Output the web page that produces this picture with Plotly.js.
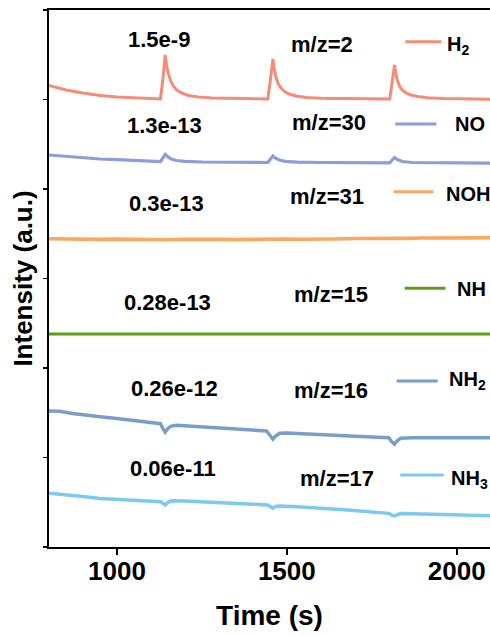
<!DOCTYPE html>
<html>
<head>
<meta charset="utf-8">
<script src="https://cdn.plot.ly/plotly-3.0.1.min.js"></script>
<style>html,body{margin:0;padding:0;background:#fff;}#chart{width:490px;height:635px;}</style>
</head>
<body>
<div id="chart"></div>
<script>
// Time axis (s) and intensities (a.u., stacked offsets as drawn)
const h2_t = [800,850,900,950,1000,1050,1100,1128,1136,1142,1146,1150,1158,1166,1176,1190,1210,1240,1280,1350,1444,1452,1459,1463,1467,1475,1483,1493,1507,1527,1557,1600,1700,1803,1810,1817,1821,1825,1833,1841,1851,1865,1885,1915,1960,2020,2098];
const h2_v = [461.5,457,454,451.5,450,449,448.3,448,470,492,482,475,466,461,457,454,451.5,450,449,448.3,448,468,488,478,471,463,459,455.5,453,451,449.5,448.7,448.2,448,465,482,473,467,460,456.5,454,452,450.5,449.3,448.6,448.2,447.8];

const no_t = [800,850,900,950,1000,1050,1100,1128,1135,1142,1150,1160,1175,1200,1250,1300,1350,1400,1444,1452,1459,1466,1478,1495,1530,1600,1700,1803,1810,1817,1825,1840,1870,1950,2050,2098];
const no_v = [392,390.5,389.3,388,387.3,386.4,385.8,385.4,389,392.5,390,388,386.5,385.6,385,384.9,384.6,384.7,384.5,388,391,389,387,385.6,384.8,384.5,384.3,384.2,387,389.5,387.5,385.5,384.5,384.1,384,383.8];

const noh_t = [800,850,900,950,1000,1050,1100,1150,1200,1250,1300,1350,1400,1450,1500,1550,1600,1650,1700,1750,1800,1850,1900,1950,2000,2050,2098];
const noh_v = [308.2,307.8,308.3,307.6,307.9,307.4,307.8,307.3,307.7,307.2,307.6,307.4,307.9,307.5,308.0,307.7,308.3,308.0,308.5,308.3,308.7,308.6,309.0,308.8,309.2,309.1,309.4];

const nh_t = [800,1100,1400,1700,2000,2098];
const nh_v = [213,213,213,213,213,213];

const nh2_t = [800,830,870,910,950,1000,1050,1100,1128,1136,1142,1150,1160,1175,1200,1250,1300,1350,1400,1440,1452,1459,1467,1479,1500,1540,1600,1650,1700,1750,1800,1808,1817,1824,1835,1870,1950,2020,2098];
const nh2_v = [136,135.7,133.5,131.5,130.3,128.5,126.5,124.5,123.3,118,114.7,118.5,121,121.8,121.3,120,119,118,117,116,111,107.7,111,113.7,114,113.5,112.5,111.5,110.8,110,109.3,105.5,102.7,106,108.7,109.2,109.4,109.3,109.3];

const nh3_t = [800,850,900,950,1000,1050,1100,1128,1136,1142,1150,1160,1200,1250,1300,1350,1400,1444,1452,1459,1466,1479,1530,1600,1680,1750,1800,1808,1817,1825,1835,1900,2000,2098];
const nh3_v = [53.7,52.5,50.5,48.5,47.5,46.8,46,45.3,43.5,42,44.5,46.3,46,45,44.3,43.5,42.8,42,40,38.7,40.5,41,40.3,39,37,35,33.7,32,31,32.5,33.5,33,32,31.3];

const series_names = ["H<sub>2</sub>","NO","NOH","NH","NH<sub>2</sub>","NH<sub>3</sub>"];
const series_colors = ["#F48C76","#8E9CDA","#F9A862","#5E9F14","#789EC9","#7DC9F4"];
const scale_labels = ["1.5e-9","1.3e-13","0.3e-13","0.28e-13","0.26e-12","0.06e-11"];
const mz_labels = ["m/z=2","m/z=30","m/z=31","m/z=15","m/z=16","m/z=17"];
const x_ticks = [1000,1500,2000];

const T = [h2_t,no_t,noh_t,nh_t,nh2_t,nh3_t];
const V = [h2_v,no_v,noh_v,nh_v,nh2_v,nh3_v];
const widths = [3,3.2,3.6,3,3.4,3.4];

const traces = T.map((t,i)=>({x:t,y:V[i],type:'scatter',mode:'lines',line:{color:series_colors[i],width:widths[i]},showlegend:false,hoverinfo:'skip'}));

// label positions (layout)
const scalePos = [[1124,507.5],[1140,421.5],[1146,344],[1150,244.5],[1170,159],[1165,79]];
const mzPos = [[1604,502.5],[1625,424.5],[1617,350.3],[1629,252.3],[1629,157],[1648,68.7]];
const legLine = [[1849,1955,505.3],[1819,1940,423],[1814,1932,355.3],[1847,1967,258.7],[1823,1944,166],[1834,1962,72]];
const legText = [[1965,501.5],[1988,423],[1962,353],[1994,258],[1971,166.5],[1977,68]];

const F = 'Liberation Sans, Arial, sans-serif';
const annotations = [];
const shapes = [];
for (let i=0;i<6;i++){
  annotations.push({x:scalePos[i][0],y:scalePos[i][1],xref:'x',yref:'y',text:scale_labels[i],showarrow:false,xanchor:'center',yanchor:'middle',font:{family:F,size:22,weight:'bold',color:'#000'}});
  annotations.push({x:mzPos[i][0],y:mzPos[i][1],xref:'x',yref:'y',text:mz_labels[i],showarrow:false,xanchor:'center',yanchor:'middle',font:{family:F,size:22,weight:'bold',color:'#000'}});
  annotations.push({x:legText[i][0],y:legText[i][1],xref:'x',yref:'y',text:series_names[i],showarrow:false,xanchor:'left',yanchor:'middle',font:{family:F,size:20,weight:'bold',color:'#000'}});
  shapes.push({type:'line',xref:'x',yref:'y',x0:legLine[i][0],x1:legLine[i][1],y0:legLine[i][2],y1:legLine[i][2],line:{color:series_colors[i],width:3}});
}

const layout = {
  width:490,height:635,
  margin:{l:49,r:0,t:10,b:88},
  paper_bgcolor:'#fff',plot_bgcolor:'#fff',
  font:{family:F,color:'#000'},
  xaxis:{range:[800,2098],tickvals:x_ticks,ticktext:x_ticks.map(String),ticks:'outside',ticklen:6,tickwidth:2,tickcolor:'#000',ticklabelstandoff:-6,
    showline:true,linewidth:2,linecolor:'#000',mirror:true,showgrid:false,zeroline:false,
    tickfont:{family:F,size:26,weight:'bold',color:'#000'},
    title:{text:'Time (s)',font:{family:F,size:28,weight:'bold',color:'#000'},standoff:20}},
  yaxis:{range:[0,537],tick0:0,dtick:89.5,ticks:'outside',ticklen:4,tickwidth:1.5,tickcolor:'#000',showticklabels:false,
    showline:true,linewidth:2,linecolor:'#000',showgrid:false,zeroline:false,
    title:{text:'Intensity (a.u.)',font:{family:F,size:26,weight:'bold',color:'#000'},standoff:3}},
  annotations:annotations,shapes:shapes
};
Plotly.newPlot('chart',traces,layout,{staticPlot:true,displayModeBar:false});
</script>
</body>
</html>
